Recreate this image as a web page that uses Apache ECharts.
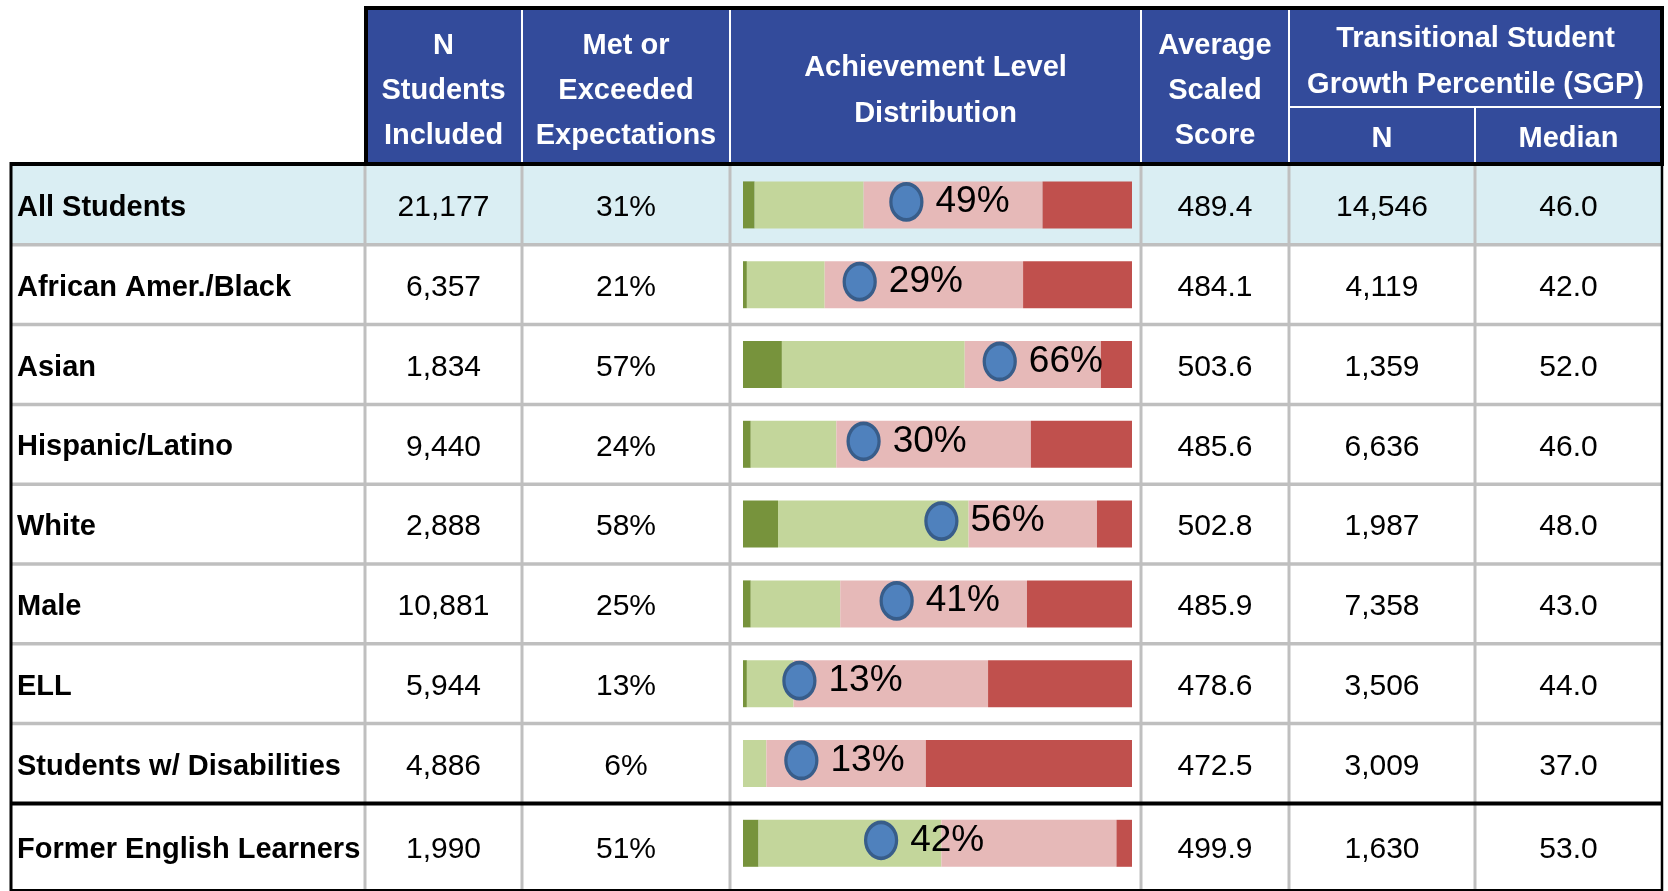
<!DOCTYPE html>
<html>
<head>
<meta charset="utf-8">
<script src="https://cdn.jsdelivr.net/npm/echarts@6/dist/echarts.min.js"></script>
<style>
  html, body { margin: 0; padding: 0; background: #fff; }
  #chart { width: 1668px; height: 891px; }
</style>
</head>
<body>
<div id="chart"></div>
<script>
// table rows
const groups = ['All Students', 'African Amer./Black', 'Asian', 'Hispanic/Latino', 'White',
    'Male', 'ELL', 'Students w/ Disabilities', 'Former English Learners'];
const nIncluded = [21177, 6357, 1834, 9440, 2888, 10881, 5944, 4886, 1990];
const metPct = [31, 21, 57, 24, 58, 25, 13, 6, 51];
const avgScore = [489.4, 484.1, 503.6, 485.6, 502.8, 485.9, 478.6, 472.5, 499.9];
const sgpN = [14546, 4119, 1359, 6636, 1987, 7358, 3506, 3009, 1630];
const sgpMedian = [46.0, 42.0, 52.0, 46.0, 48.0, 43.0, 44.0, 37.0, 53.0];

// achievement level distribution (% of students)
const levelExceeded = [3, 1, 10, 2, 9, 2, 1, 0, 4];
const levelMet = [28, 20, 47, 22, 49, 23, 12, 6, 47];
const levelApproached = [46, 51, 35, 50, 33, 48, 50, 41, 45];
const levelBelow = [23, 28, 8, 26, 9, 27, 37, 53, 4];

// blue marker: where it sits on the bar and the figure printed beside it
const markerPos = [42, 30, 66, 31, 51, 39.5, 14.5, 15, 35.5];
const markerLabel = ['49%', '29%', '66%', '30%', '56%', '41%', '13%', '13%', '42%'];

// layout
const colEdges = [10, 365, 522, 730, 1141, 1289, 1475, 1662];
const rowTop = 165, rowH = 79.8, tableBottom = 890;
const headTop = 8, headSplit = 107;
const barLeft = 743, barSpan = 389;
const textShift = 3;   // canvas "middle" sits a bit high for these fonts
const BLUE = '#334b9b', GRIDC = '#bfbfbf';
const FONT = '"Liberation Sans", Arial, sans-serif';

const chart = echarts.init(document.getElementById('chart'));

function line(x1, y1, x2, y2, color, w, z) {
    return { type: 'line', z: z, shape: { x1: x1, y1: y1, x2: x2, y2: y2 },
        style: { stroke: color, lineWidth: w } };
}
function headText(txt, x, y, lh) {
    return { type: 'text', z: 20, style: { text: txt, x: x, y: y + textShift, fill: '#fff',
        fontFamily: FONT, fontSize: 29, fontWeight: 'bold', align: 'center',
        verticalAlign: 'middle', lineHeight: lh } };
}
const mid = k => (colEdges[k] + colEdges[k + 1]) / 2;
const right = colEdges[colEdges.length - 1];

const elements = [];
// light blue first row
elements.push({ type: 'rect', z: 0, shape: { x: colEdges[0], y: rowTop, width: right - colEdges[0], height: rowH },
    style: { fill: '#daeef3' } });
// header block
elements.push({ type: 'rect', z: 10, shape: { x: colEdges[1] + 1, y: headTop, width: right - colEdges[1] - 1, height: rowTop - 1 - headTop },
    style: { fill: BLUE, stroke: '#000', lineWidth: 4 } });
for (let k = 2; k <= 5; k++) elements.push(line(colEdges[k], headTop + 2, colEdges[k], rowTop - 3, '#fff', 2, 15));
elements.push(line(colEdges[6], headSplit, colEdges[6], rowTop - 3, '#fff', 2, 15));
elements.push(line(colEdges[5], headSplit, right - 1, headSplit, '#fff', 2, 15));
elements.push(headText('N\nStudents\nIncluded', mid(1), 88, 45));
elements.push(headText('Met or\nExceeded\nExpectations', mid(2), 88, 45));
elements.push(headText('Achievement Level\nDistribution', mid(3), 88, 46));
elements.push(headText('Average\nScaled\nScore', mid(4), 88, 45));
elements.push(headText('Transitional Student\nGrowth Percentile (SGP)', (colEdges[5] + right) / 2, 59, 46));
elements.push(headText('N', mid(5), 136, 45));
elements.push(headText('Median', mid(6), 136, 45));
// body grid lines
for (let k = 1; k <= 6; k++) elements.push(line(colEdges[k], rowTop, colEdges[k], tableBottom, GRIDC, 3, 5));
for (let r = 1; r <= 7; r++) elements.push(line(colEdges[0], rowTop + r * rowH, right, rowTop + r * rowH, GRIDC, 3.5, 5));
// black borders
elements.push(line(colEdges[0], rowTop - 1, right + 1, rowTop - 1, '#000', 4, 12));
elements.push(line(colEdges[0] + 1, rowTop - 3, colEdges[0] + 1, tableBottom + 1, '#000', 3, 12));
elements.push(line(right, headTop - 2, right, tableBottom + 1, '#000', 2.5, 12));
elements.push(line(colEdges[0], rowTop + 8 * rowH, right, rowTop + 8 * rowH, '#000', 4, 12));
elements.push(line(colEdges[0], tableBottom, right + 1, tableBottom, '#000', 2, 12));

function levelSeries(name, data, color) {
    return { name: name, type: 'bar', stack: 'level', xAxisIndex: 0, yAxisIndex: 0,
        barWidth: 47, data: data, itemStyle: { color: color }, silent: true };
}

const option = {
    animation: false,
    graphic: { elements: elements },
    grid: [
        { left: barLeft, width: barSpan, top: rowTop, height: 9 * rowH },
        { left: colEdges[0], width: right - colEdges[0], top: rowTop, height: 9 * rowH }
    ],
    xAxis: [
        { gridIndex: 0, type: 'value', min: 0, max: 100, show: false },
        { gridIndex: 1, type: 'value', min: colEdges[0], max: right, show: false }
    ],
    yAxis: [
        { gridIndex: 0, type: 'category', data: groups, inverse: true, show: false },
        { gridIndex: 1, type: 'category', data: groups, inverse: true, show: false }
    ],
    series: [
        levelSeries('Exceeded', levelExceeded, '#77933c'),
        levelSeries('Met', levelMet, '#c3d69b'),
        levelSeries('Approached', levelApproached, '#e6b9b8'),
        levelSeries('Below', levelBelow, '#c0504d'),
        {
            type: 'scatter', xAxisIndex: 0, yAxisIndex: 0, z: 5,
            data: markerPos.map((v, i) => [v, i]),
            symbol: 'path://M0,50 A50,50 0 1,1 100,50 A50,50 0 1,1 0,50 Z',
            symbolSize: [31, 36], symbolOffset: [0, -3],
            itemStyle: { color: '#4f81bd', borderColor: '#385d8a', borderWidth: 3.5, opacity: 1 },
            label: { show: true, position: 'right', distance: 12,
                formatter: p => markerLabel[p.dataIndex],
                color: '#000', fontSize: 37, fontFamily: FONT }
        },
        {
            type: 'custom', xAxisIndex: 1, yAxisIndex: 1, z: 6, clip: false,
            data: groups.map((g, i) => [colEdges[0], i]),
            renderItem: function (params, api) {
                const i = params.dataIndex;
                const c = api.coord([colEdges[0], i]);
                const band = api.size([0, 1])[1];
                const top = c[1] - band / 2;
                const bottom = i === groups.length - 1 ? tableBottom : top + band;
                const y = (top + bottom) / 2 + textShift;
                const cells = [
                    [1, nIncluded[i].toLocaleString('en-US')],
                    [2, metPct[i] + '%'],
                    [4, avgScore[i].toFixed(1)],
                    [5, sgpN[i].toLocaleString('en-US')],
                    [6, sgpMedian[i].toFixed(1)]
                ];
                const children = [{
                    type: 'text', style: { text: groups[i], x: api.coord([colEdges[0] + 7, i])[0], y: y,
                        fill: '#000', fontFamily: FONT, fontSize: 29, fontWeight: 'bold',
                        align: 'left', verticalAlign: 'middle' }
                }];
                cells.forEach(function (cell) {
                    children.push({
                        type: 'text', style: { text: cell[1], x: api.coord([mid(cell[0]), i])[0], y: y,
                            fill: '#000', fontFamily: FONT, fontSize: 30,
                            align: 'center', verticalAlign: 'middle' }
                    });
                });
                return { type: 'group', children: children };
            }
        }
    ]
};
chart.setOption(option);
</script>
</body>
</html>
